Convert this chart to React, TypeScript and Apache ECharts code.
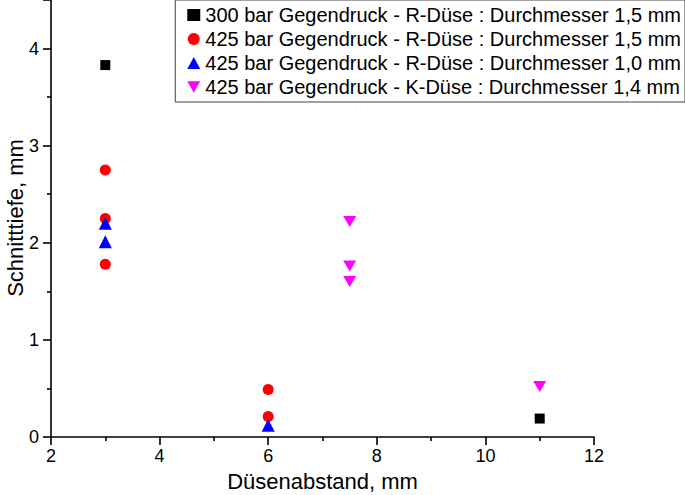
import React, { useEffect, useRef } from "react";
import * as echarts from "echarts";

const seriesNames = [
  "300 bar Gegendruck - R-Düse : Durchmesser 1,5 mm",
  "425 bar Gegendruck - R-Düse : Durchmesser 1,5 mm",
  "425 bar Gegendruck - R-Düse : Durchmesser 1,0 mm",
  "425 bar Gegendruck - K-Düse : Durchmesser 1,4 mm",
];
const s300R15: number[][] = [[3, 3.83], [11, 0.19]];
const s425R15: number[][] = [[3, 2.75], [3, 2.25], [3, 1.78], [6, 0.49], [6, 0.21]];
const s425R10: number[][] = [[3, 2.2], [3, 2.01], [6, 0.12]];
const s425K14: number[][] = [[7.5, 2.22], [7.5, 1.76], [7.5, 1.6], [11, 0.52]];

const xTitle = "Düsenabstand, mm";
const yTitle = "Schnitttiefe, mm";

const FONT = "'Liberation Sans', Arial, sans-serif";
const downTri = "path://M0,0 L10,0 L5,9 Z";

export default function App() {
  const ref = useRef<HTMLDivElement>(null);
  useEffect(() => {
    const chart = echarts.init(ref.current!, null, { renderer: "svg" });
    const axisCommon = {
      axisLine: { show: true, onZero: false, lineStyle: { color: "#000", width: 1.6 } },
      axisTick: { show: true, inside: false, length: 8, lineStyle: { color: "#000", width: 1.6 } },
      minorTick: { show: true, splitNumber: 2, length: 4, lineStyle: { color: "#000", width: 1.6 } },
      splitLine: { show: false },
      axisLabel: { color: "#000", fontSize: 18, fontFamily: FONT, margin: 10 },
      nameTextStyle: { color: "#000", fontSize: 22, fontFamily: FONT },
      nameLocation: "middle" as const,
      nameMoveOverlap: false,
    };
    chart.setOption({
      animation: false,
      backgroundColor: "#fff",
      grid: { left: 51, right: 91, top: 0, bottom: 58, outerBoundsMode: "none", containLabel: false },
      xAxis: {
        type: "value",
        min: 2,
        max: 12,
        interval: 2,
        name: xTitle,
        nameGap: 33,
        ...axisCommon,
      },
      yAxis: {
        type: "value",
        min: 0,
        max: 4.5,
        interval: 1,
        ...axisCommon,
        axisLabel: { ...axisCommon.axisLabel, margin: 12, showMaxLabel: false },
      },
      graphic: [
        {
          type: "text",
          x: 15,
          y: 218,
          rotation: Math.PI / 2,
          style: {
            text: yTitle,
            fill: "#000",
            font: `22px ${FONT}`,
            align: "center",
            verticalAlign: "middle",
          },
        },
      ],
      legend: {
        orient: "vertical",
        right: 0,
        top: 0,
        itemGap: 4,
        itemWidth: 13,
        itemHeight: 12,
        padding: [5, 4, 5, 12],
        borderColor: "#444",
        borderWidth: 1,
        backgroundColor: "#fff",
        textStyle: { color: "#000", fontSize: 20, lineHeight: 20, fontFamily: FONT },
        data: [
          { name: seriesNames[0], icon: "rect" },
          { name: seriesNames[1], icon: "circle" },
          { name: seriesNames[2], icon: "triangle" },
          { name: seriesNames[3], icon: downTri },
        ],
      },
      series: [
        { type: "scatter", name: seriesNames[0], data: s300R15, symbol: "rect", symbolSize: 10, itemStyle: { color: "#000", opacity: 1 } },
        { type: "scatter", name: seriesNames[1], data: s425R15, symbol: "circle", symbolSize: 11, itemStyle: { color: "#ff0000", opacity: 1 } },
        { type: "scatter", name: seriesNames[2], data: s425R10, symbol: "triangle", symbolSize: 13, itemStyle: { color: "#0000ff", opacity: 1 } },
        { type: "scatter", name: seriesNames[3], data: s425K14, symbol: downTri, symbolSize: [13, 11], itemStyle: { color: "#ff00ff", opacity: 1 } },
      ],
    });
    return () => chart.dispose();
  }, []);
  return <div ref={ref} style={{ width: 685, height: 495, position: "absolute", left: 0, top: 0 }} />;
}
